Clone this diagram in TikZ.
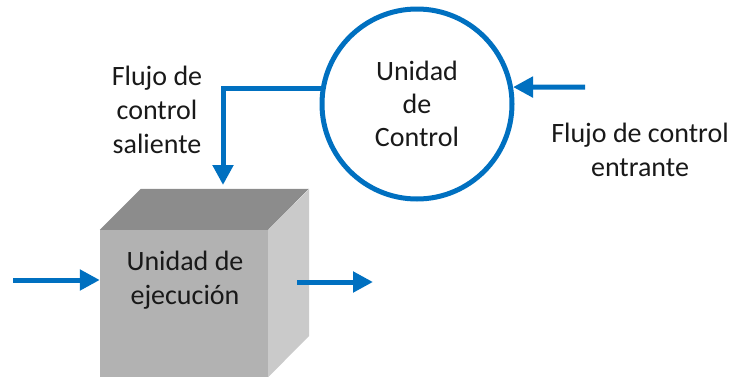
\documentclass[tikz,border=0pt]{standalone}
\usepackage{fontspec}
\setmainfont{Carlito}
\usepackage{xcolor}
\usepackage{tikz}
\usetikzlibrary{arrows.meta}
\definecolor{flowblue}{HTML}{0070C0}
\definecolor{frontgray}{HTML}{B2B2B2}
\definecolor{topgray}{HTML}{8C8C8C}
\definecolor{sidegray}{HTML}{CACACA}

\begin{document}
\begin{tikzpicture}[x=1pt,y=-1pt]
      \tikzstyle{unit} = [circle, minimum size=190pt, line width=5pt, draw=flowblue, align=center, text=black!90, font=\fontsize{28}{33}\selectfont]
      \tikzstyle{face} = [rectangle, minimum width=168pt, minimum height=147pt, fill=frontgray, inner sep=0pt]
      \tikzstyle{caption} = [align=center, text=black!90, font=\fontsize{28}{34}\selectfont]
      \tikzstyle{arrow} = [line width=5pt, draw=flowblue, -{Triangle[length=20pt,width=20pt]}]

      \useasboundingbox (0,0) rectangle (731,378);

      \node (control) [unit] at (417,104) {Unidad\\de\\Control};
      \node (exec) [face] at (184,303.5) {};
      \fill[topgray] (exec.north west) -- ++(41,-41) -- ++(168,0) -- (exec.north east) -- cycle;
      \fill[sidegray] (exec.north east) -- ++(41,-41) -- ++(0,147) -- (exec.south east) -- cycle;
      \node (exectext) [caption] at (185,280) {Unidad de\\ejecución};

      \node (saliente) [caption] at (157,110) {Flujo de\\control\\saliente};
      \node (entrante) [caption] at (640,150) {Flujo de control\\entrante};

      \coordinate (ctrlin) at (585,87);
      \coordinate (port) at (223,185);
      \coordinate (feedin) at (13,280);
      \coordinate (feedout) at (373,282);

      \draw [arrow] (ctrlin) -- (control.10);
      \draw [arrow] (control.171) -| (port);
      \draw [arrow] (feedin) -- (feedin -| exec.west);
      \draw [arrow] ([xshift=29pt]exec.east |- feedout) -- (feedout);
    \end{tikzpicture}
\end{document}
